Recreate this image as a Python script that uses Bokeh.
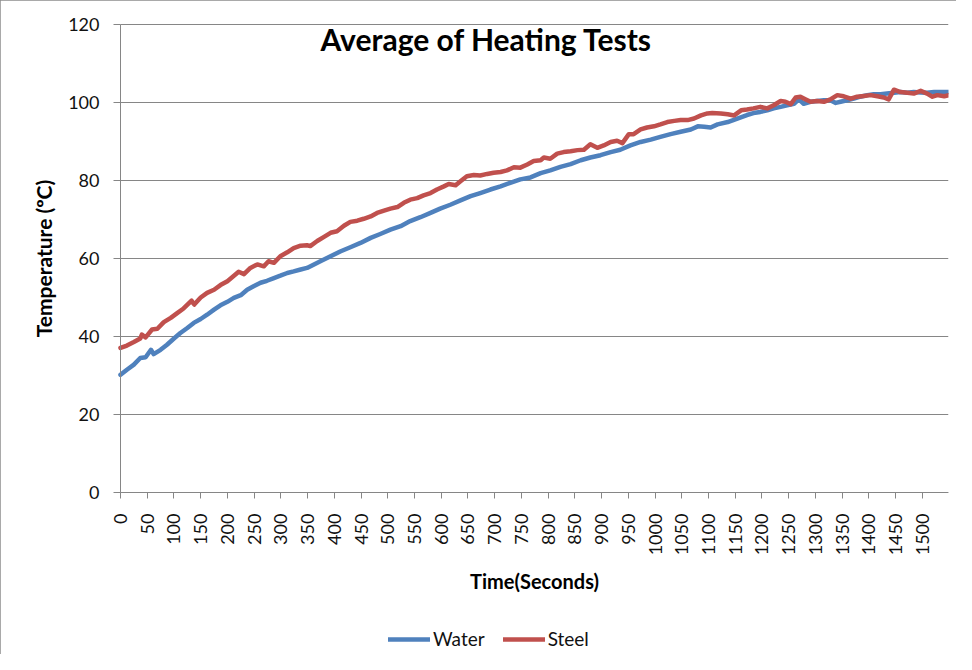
import math
from bokeh.plotting import figure
from bokeh.models import Range1d, FixedTicker, Legend, LegendItem, Label
from bokeh.embed import file_html
from bokeh.resources import INLINE

# ---- data ----
water_time = [0, 12, 25, 37, 47, 57, 62, 75, 87, 100, 112, 125, 137, 150, 162, 175, 187, 200, 212,
              225, 237, 249, 262, 274, 287, 299, 312, 324, 337, 349, 362, 374, 393, 411, 430, 449, 468,
              486, 505, 524, 542, 561, 580, 598, 617, 636, 655, 673, 692, 711, 729, 748, 767, 786, 804,
              823, 842, 861, 879, 898, 917, 935, 954, 973, 992, 1010, 1029, 1048, 1067, 1080, 1092,
              1104, 1117, 1136, 1154, 1172, 1184, 1197, 1210, 1222, 1235, 1247, 1260, 1269, 1278, 1291,
              1303, 1316, 1328, 1338, 1347, 1359, 1372, 1384, 1397, 1409, 1422, 1434, 1447, 1459, 1472,
              1484, 1497, 1509, 1522, 1534, 1550]
water_temp = [30.2, 31.5, 32.8, 34.5, 34.7, 36.6, 35.5, 36.6, 37.9, 39.5, 40.9, 42.2, 43.5, 44.5,
              45.6, 46.9, 48.0, 48.9, 49.9, 50.6, 52.0, 52.9, 53.8, 54.3, 55.0, 55.6, 56.3, 56.7, 57.2,
              57.6, 58.5, 59.3, 60.6, 61.8, 62.9, 64.0, 65.3, 66.3, 67.4, 68.3, 69.6, 70.6, 71.7, 72.8,
              73.8, 74.9, 76.0, 76.8, 77.7, 78.5, 79.4, 80.3, 80.8, 81.9, 82.6, 83.5, 84.2, 85.2, 85.9,
              86.5, 87.3, 87.9, 89.0, 89.9, 90.5, 91.2, 91.9, 92.5, 93.1, 93.9, 93.8, 93.6, 94.4, 95.0,
              95.9, 96.8, 97.3, 97.6, 98.0, 98.5, 98.9, 99.3, 99.7, 100.8, 99.7, 100.2, 100.4, 100.6,
              100.6, 99.9, 100.2, 100.6, 101.0, 101.5, 101.9, 102.1, 102.1, 102.3, 102.5, 102.7, 102.5,
              102.7, 102.6, 102.5, 102.7, 102.7, 102.7]

steel_time = [0, 12, 25, 37, 40, 47, 59, 69, 81, 94, 106, 118, 133, 138, 150, 162, 175, 187, 200,
              215, 221, 231, 243, 256, 268, 277, 287, 299, 312, 324, 337, 349, 355, 368, 380, 393, 405,
              418, 430, 443, 455, 468, 480, 493, 505, 518, 530, 542, 555, 567, 580, 592, 605, 614, 627,
              636, 648, 661, 673, 686, 698, 711, 723, 736, 748, 761, 773, 786, 792, 804, 817, 829, 842,
              855, 867, 879, 892, 904, 917, 929, 939, 951, 960, 973, 985, 998, 1010, 1023, 1036, 1048,
              1061, 1073, 1086, 1098, 1107, 1123, 1136, 1148, 1161, 1172, 1184, 1197, 1210, 1222, 1235,
              1244, 1254, 1263, 1272, 1282, 1291, 1303, 1316, 1328, 1341, 1353, 1366, 1378, 1391, 1403,
              1416, 1428, 1437, 1447, 1459, 1472, 1484, 1497, 1509, 1519, 1528, 1541, 1550]
steel_temp = [37.1, 37.7, 38.6, 39.5, 40.5, 39.8, 41.8, 42.0, 43.7, 44.8, 46.0, 47.2, 49.2, 48.2,
              50.0, 51.2, 52.0, 53.2, 54.2, 55.9, 56.6, 56.0, 57.6, 58.5, 58.0, 59.3, 58.9, 60.6, 61.6,
              62.7, 63.3, 63.4, 63.2, 64.5, 65.5, 66.6, 67.0, 68.4, 69.4, 69.7, 70.2, 70.8, 71.7, 72.3,
              72.8, 73.2, 74.3, 75.1, 75.5, 76.2, 76.8, 77.7, 78.5, 79.1, 78.8, 79.8, 81.1, 81.4, 81.3,
              81.7, 82.0, 82.2, 82.6, 83.4, 83.3, 84.1, 85.0, 85.2, 85.9, 85.6, 86.9, 87.3, 87.5, 87.8,
              87.9, 89.3, 88.4, 89.0, 89.9, 90.2, 89.6, 91.9, 91.9, 93.1, 93.6, 93.9, 94.4, 95.0, 95.3,
              95.5, 95.5, 95.9, 96.7, 97.2, 97.3, 97.2, 97.0, 96.7, 98.0, 98.2, 98.5, 98.9, 98.5, 99.3,
              100.4, 100.2, 99.6, 101.3, 101.5, 100.8, 100.2, 100.4, 100.2, 100.8, 101.9, 101.6, 101.0,
              101.5, 101.7, 101.9, 101.6, 101.3, 100.8, 103.3, 102.7, 102.5, 102.3, 103.0, 102.3, 101.5,
              101.9, 101.6, 101.9]

x_ticks = [0, 50, 100, 150, 200, 250, 300, 350, 400, 450, 500, 550, 600, 650, 700, 750, 800, 850,
           900, 950, 1000, 1050, 1100, 1150, 1200, 1250, 1300, 1350, 1400, 1450, 1500]
y_ticks = [0, 20, 40, 60, 80, 100, 120]
x_end = 1549
series_names = ["Water", "Steel"]
series_colors = ["#4F81BD", "#C0504D"]
chart_title = "Average of Heating Tests"
x_title = "Time(Seconds)"
y_title = "Temperature (ºC)"

FONT = "Lato"
GRAY = "#868686"

# The frame covers almost the whole canvas: both axes are fixed at 0 inside it, so that
# tick labels, axis titles and the legend are all drawn without being clipped.
p = figure(width=956, height=654, output_backend="svg", toolbar_location=None, title=None,
           x_range=Range1d(-217, x_end), y_range=Range1d(-40.5, 125.14),
           min_border_left=4, min_border_right=8, min_border_top=4, min_border_bottom=4)
p.background_fill_color = "white"
p.border_fill_color = "white"
p.outline_line_color = None
p.styles = {"outline": "2px solid #8c8c8c", "outline-offset": "-2px"}

# horizontal grid lines only over the data area
p.xgrid.visible = False
p.ygrid.ticker = FixedTicker(ticks=y_ticks)
p.ygrid.grid_line_color = GRAY
p.ygrid.grid_line_width = 1
try:
    p.ygrid.cross_bounds = (0, x_end)
except Exception:
    p.ygrid.visible = False
    p.segment(x0=[0] * len(y_ticks), x1=[x_end] * len(y_ticks), y0=y_ticks, y1=y_ticks,
              line_color=GRAY, line_width=1)

# axes
p.yaxis.ticker = FixedTicker(ticks=y_ticks)
p.yaxis.bounds = (y_ticks[0], y_ticks[-1])
p.yaxis.fixed_location = 0
p.xaxis.ticker = FixedTicker(ticks=x_ticks)
p.xaxis.bounds = (0, x_end)
p.xaxis.fixed_location = 0
for ax in (p.xaxis[0], p.yaxis[0]):
    ax.axis_line_color = GRAY
    ax.major_tick_line_color = GRAY
    ax.minor_tick_line_color = None
    ax.major_tick_in = 0
    ax.major_label_text_font = FONT
    ax.major_label_text_font_size = "18px"
    ax.major_label_text_color = "#111111"

p.yaxis.major_tick_out = 7
p.yaxis.major_label_standoff = 14
p.xaxis.major_tick_out = 6
p.xaxis.major_label_standoff = 15
p.xaxis.major_label_orientation = math.pi / 2

# lines
r_water = p.line(water_time, water_temp, line_color=series_colors[0], line_width=4.5,
                 line_join="round", line_cap="round")
r_steel = p.line(steel_time, steel_temp, line_color=series_colors[1], line_width=4.5,
                 line_join="round", line_cap="round")

# texts (screen units relative to the frame's bottom-left corner)
p.add_layout(Label(x=482, y=612, x_units="screen", y_units="screen", text=chart_title,
                   text_font=FONT, text_font_style="bold", text_font_size="30px",
                   text_align="center", text_baseline="middle", text_color="#000000"))
p.add_layout(Label(x=530, y=70, x_units="screen", y_units="screen", text=x_title,
                   text_font=FONT, text_font_style="bold", text_font_size="20px",
                   text_align="center", text_baseline="middle", text_color="#000000"))
p.add_layout(Label(x=39, y=392, x_units="screen", y_units="screen", text=y_title, angle=math.pi / 2,
                   text_font=FONT, text_font_style="bold", text_font_size="21px",
                   text_align="center", text_baseline="middle", text_color="#000000"))

legend = Legend(items=[LegendItem(label=series_names[0], renderers=[r_water]),
                       LegendItem(label=series_names[1], renderers=[r_steel])],
                orientation="horizontal", location=(384, 0),
                glyph_width=42, glyph_height=20, label_standoff=3, spacing=18,
                padding=0, margin=0, border_line_color=None, background_fill_alpha=0,
                label_text_font=FONT, label_text_font_size="19px", label_text_color="#111111")
p.add_layout(legend)

open("out.html", "w").write(file_html(p, INLINE))
